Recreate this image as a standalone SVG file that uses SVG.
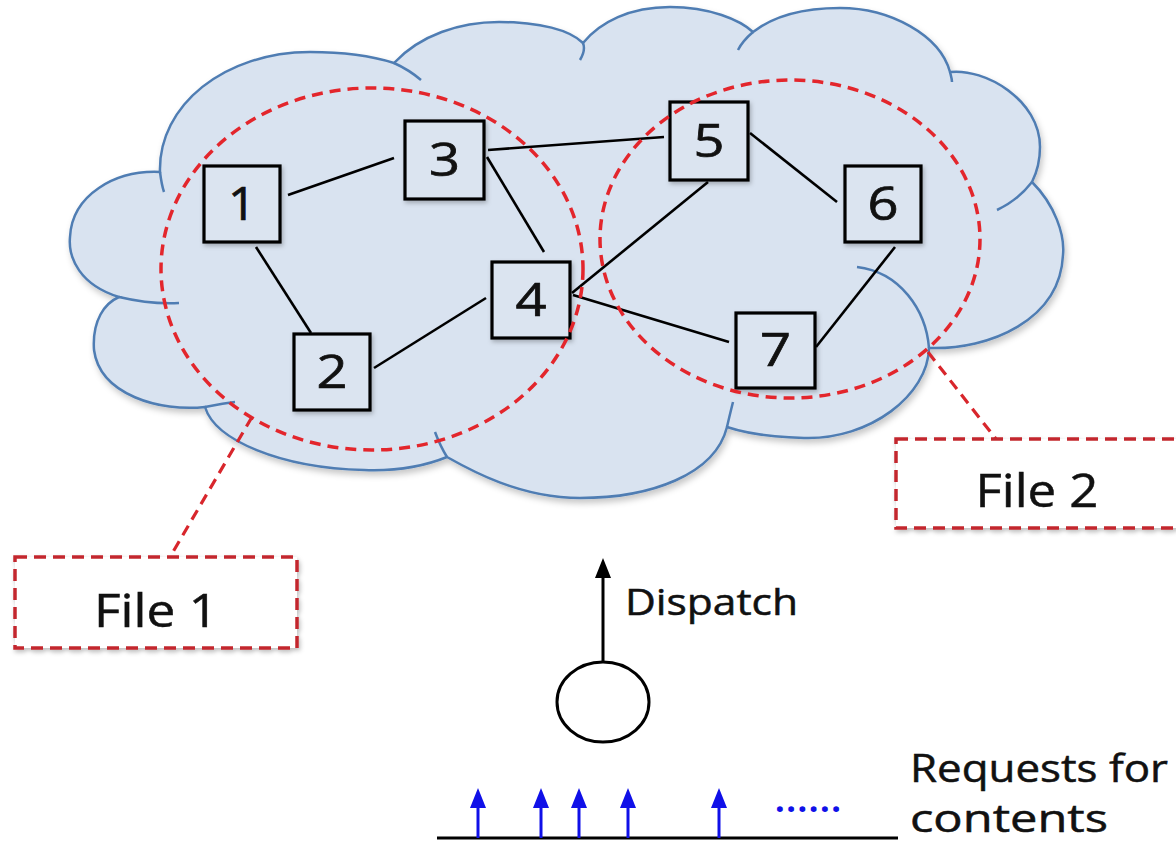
<svg xmlns="http://www.w3.org/2000/svg" width="1176" height="842" viewBox="0 0 1176 842">
  <style>
    .cloud { fill: #d9e3f0; stroke: #4f7db3; stroke-width: 2.5; }
    .stub { fill: none; stroke: #4f7db3; stroke-width: 2.5; }
    .node rect { fill: #dbe4f0; stroke: #000; stroke-width: 3.2; }
    .node text { font-family: "Open Sans", "Liberation Sans", sans-serif; font-size: 45px; fill: #111; stroke: #111; stroke-width: 0.7; text-anchor: middle; }
    .edge { stroke: #000; stroke-width: 2.6; fill: none; }
    .region { fill: none; stroke: #e3262c; stroke-width: 3.5; stroke-dasharray: 11 7; }
    .leader { fill: none; stroke: #d8262c; stroke-width: 3.2; stroke-dasharray: 11 7; }
    .fbox { fill: #fff; stroke: #c3282e; stroke-width: 3.5; stroke-dasharray: 12 7; }
    .lbl { font-family: "Open Sans", "Liberation Sans", sans-serif; fill: #111; stroke: #111; stroke-width: 0.5; }
    .blue { stroke: #1010e8; stroke-width: 3; }
  </style>
  <defs>
    <filter id="sh" x="-10%" y="-10%" width="120%" height="125%">
      <feDropShadow dx="2" dy="4" stdDeviation="3" flood-color="#000" flood-opacity="0.22"/>
    </filter>
    <filter id="shs" x="-20%" y="-20%" width="140%" height="140%">
      <feDropShadow dx="1.5" dy="2.5" stdDeviation="2" flood-color="#000" flood-opacity="0.25"/>
    </filter>
    <marker id="ahB" viewBox="0 0 20 16" refX="0" refY="8" markerWidth="20" markerHeight="16" markerUnits="userSpaceOnUse" orient="auto">
      <path d="M0,0 L20,8 L0,16 Z" fill="#000"/>
    </marker>
    <marker id="ahU" viewBox="0 0 20 16" refX="0" refY="8" markerWidth="20" markerHeight="16" markerUnits="userSpaceOnUse" orient="auto">
      <path d="M0,0 L20,8 L0,16 Z" fill="#1010e8"/>
    </marker>
  </defs>
  <rect width="1176" height="842" fill="#fff"/>

  <g id="cloud">
    <path class="cloud" filter="url(#sh)" d="M119,297 C80,285 68,258 70,237 C72,195 115,170 160,172 C158,105 225,52 310,52 C345,52 372,56 394,63 C420,35 460,22 499,22 C540,22 570,30 583,43 C600,22 630,7 670,7 C710,7 740,20 753,32 C775,15 805,8 840,8 C890,8 940,35 950,72 C985,68 1040,100 1040,147 C1040,160 1037,172 1032,182 C1055,205 1065,235 1063,255 C1060,320 990,350 929,348 C928,395 870,440 804,438 C770,437 745,433 727,427 C715,475 650,498 580,498 C520,498 470,470 447,457 C420,468 390,471 364,470 C280,468 215,440 205,407 C160,412 100,395 94,350 C92,320 105,303 119,297 Z"/>
    <path class="stub" d="M160,172 C161,180 162,186 164,192 M394,63 C405,68 414,74 421,80 M583,43 C585,48 583,55 580,60 M753,32 C746,38 741,44 738,50 M950,72 C951,76 952,79 952,82 M1032,182 C1022,195 1010,204 997,210 M929,348 C926,310 900,272 857,267 M727,427 C729,418 731,410 733,402 M447,457 C442,449 438,440 435,432 M205,407 C215,405 225,403 235,402 M119,297 C140,302 160,304 179,303"/>
  </g>

  <g id="connectors">
    <line class="edge" x1="288" y1="195" x2="394" y2="158"/>
    <line class="edge" x1="256" y1="247" x2="311" y2="333"/>
    <line class="edge" x1="487" y1="157" x2="544" y2="252"/>
    <line class="edge" x1="488" y1="150" x2="664" y2="137"/>
    <line class="edge" x1="374" y1="368" x2="486" y2="298"/>
    <line class="edge" x1="572" y1="293" x2="708" y2="182"/>
    <line class="edge" x1="573" y1="295" x2="729" y2="342"/>
    <line class="edge" x1="750" y1="133" x2="837" y2="202"/>
    <line class="edge" x1="895" y1="247" x2="816" y2="347"/>
  </g>

  <g id="n1" class="node"><rect x="204" y="166" width="76" height="76" filter="url(#shs)"/><text x="242" y="220" textLength="28" lengthAdjust="spacingAndGlyphs">1</text></g>
  <g id="n3" class="node"><rect x="405" y="121" width="79" height="78" filter="url(#shs)"/><text x="444.5" y="176" textLength="31" lengthAdjust="spacingAndGlyphs">3</text></g>
  <g id="n4" class="node"><rect x="492" y="262" width="78" height="76" filter="url(#shs)"/><text x="531" y="316" textLength="31" lengthAdjust="spacingAndGlyphs">4</text></g>
  <g id="n2" class="node"><rect x="294" y="334" width="76" height="76" filter="url(#shs)"/><text x="332" y="388" textLength="31" lengthAdjust="spacingAndGlyphs">2</text></g>
  <g id="n5" class="node"><rect x="670" y="102" width="78" height="78" filter="url(#shs)"/><text x="709" y="157" textLength="31" lengthAdjust="spacingAndGlyphs">5</text></g>
  <g id="n6" class="node"><rect x="845" y="166" width="76" height="76" filter="url(#shs)"/><text x="883" y="220" textLength="31" lengthAdjust="spacingAndGlyphs">6</text></g>
  <g id="n7" class="node"><rect x="736" y="313" width="79" height="75" filter="url(#shs)"/><text x="775.5" y="366" textLength="31" lengthAdjust="spacingAndGlyphs">7</text></g>

  <g id="regions">
    <ellipse class="region" cx="372" cy="269" rx="211" ry="181"/>
    <ellipse class="region" cx="790" cy="239" rx="190" ry="159"/>
  </g>

  <g id="file1">
    <line class="leader" x1="252" y1="417" x2="170" y2="557"/>
    <rect class="fbox" x="15" y="557" width="282" height="91" filter="url(#shs)"/>
    <text class="lbl" x="156" y="627" font-size="46" text-anchor="middle" textLength="124" lengthAdjust="spacingAndGlyphs">File 1</text>
  </g>

  <g id="file2">
    <line class="leader" x1="928" y1="352" x2="996" y2="439"/>
    <rect class="fbox" x="896" y="439" width="284" height="89" filter="url(#shs)"/>
    <text class="lbl" x="1037" y="507" font-size="46" text-anchor="middle" textLength="123" lengthAdjust="spacingAndGlyphs">File 2</text>
  </g>

  <g id="dispatcher">
    <ellipse cx="603" cy="702" rx="46" ry="40" fill="none" stroke="#000" stroke-width="3"/>
    <line x1="603" y1="662" x2="603" y2="578" stroke="#000" stroke-width="3" marker-end="url(#ahB)"/>
    <text class="lbl" x="625" y="615" font-size="36" textLength="173" lengthAdjust="spacingAndGlyphs">Dispatch</text>
  </g>

  <g id="requests">
    <line x1="437" y1="838" x2="898" y2="838" stroke="#000" stroke-width="3"/>
    <line class="blue" x1="478" y1="838" x2="478" y2="808" marker-end="url(#ahU)"/>
    <line class="blue" x1="541" y1="838" x2="541" y2="808" marker-end="url(#ahU)"/>
    <line class="blue" x1="579" y1="838" x2="579" y2="808" marker-end="url(#ahU)"/>
    <line class="blue" x1="628" y1="838" x2="628" y2="808" marker-end="url(#ahU)"/>
    <line class="blue" x1="719" y1="838" x2="719" y2="808" marker-end="url(#ahU)"/>
    <text x="775" y="812" font-family="Open Sans, Liberation Sans, sans-serif" font-size="34" font-weight="bold" fill="#1010e8" textLength="66" lengthAdjust="spacing">......</text>
    <text class="lbl" x="910" y="782" font-size="38" textLength="258" lengthAdjust="spacingAndGlyphs">Requests for</text>
    <text class="lbl" x="910" y="832" font-size="38" textLength="198" lengthAdjust="spacingAndGlyphs">contents</text>
  </g>
</svg>
